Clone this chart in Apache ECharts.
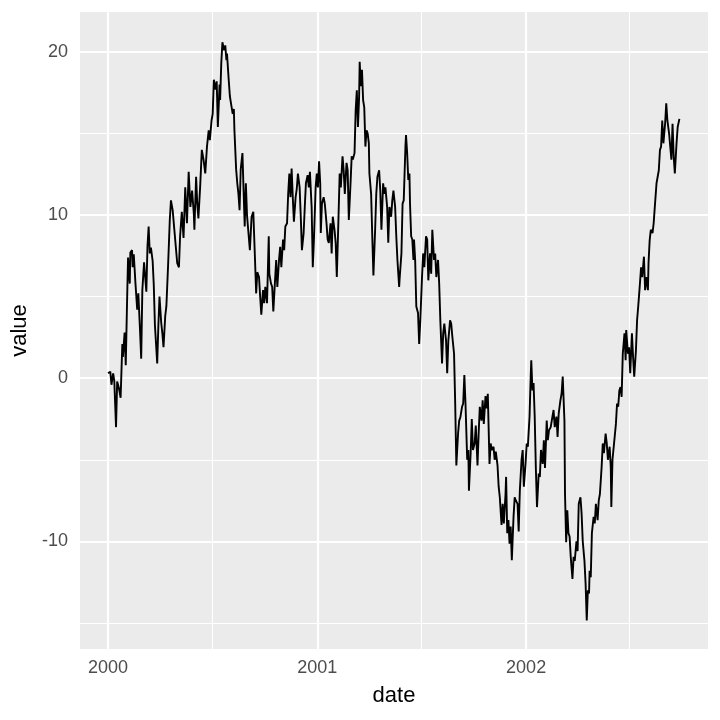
<!DOCTYPE html>
<html>
<head>
<meta charset="utf-8">
<script src="https://cdn.jsdelivr.net/npm/echarts@6/dist/echarts.min.js"></script>
<style>
  html, body { margin: 0; padding: 0; background: #fff; }
  #chart { width: 720px; height: 720px; }
</style>
</head>
<body>
<div id="chart"></div>
<script>
// days since 2000-01-01
const days = [
  0, 4, 6, 9, 11, 14, 16, 19, 22, 25, 26, 29, 31, 33, 35, 38, 39, 42, 43, 45,
  48, 51, 53, 56, 58, 60, 63, 65, 67, 69, 71, 73, 75, 78, 80, 82, 86, 88, 90, 93,
  95, 97, 100, 102, 105, 108, 110, 113, 116,
  121, 124, 126, 129, 132, 135, 138, 141, 144, 147, 150, 151, 154, 156, 158, 161, 164, 167, 170, 173,
  176, 178, 181, 183, 185, 188, 190, 192, 195, 196, 198, 200, 203, 205, 207, 208, 211, 213, 215, 218,
  220, 221, 224, 226, 228, 230, 232, 235, 237, 239, 241, 243, 246, 248,
  251, 254, 257, 259, 261, 264, 266, 268, 271, 273, 275, 278, 281, 282, 285, 287, 289, 292, 294, 296,
  299, 301, 303, 306, 308, 310, 313, 315, 317, 319, 321, 323, 325, 328, 330, 332, 335, 337, 339, 342,
  344, 346, 349, 351, 353, 356, 358, 360, 363, 365, 367, 369, 371, 372, 374, 377,
  379, 382, 384, 386, 389, 391, 393, 396, 398, 400, 403, 405, 407, 410, 412, 414, 417, 419, 421, 424,
  426, 428, 431, 433, 435, 437, 439, 440, 442, 444, 446, 448, 450, 452, 454, 456, 457, 460, 462, 464,
  467, 469, 471, 474, 476, 478, 481, 483, 485, 488, 490, 492, 495, 497, 499, 502, 504, 506, 509,
  510, 513, 515, 517, 520, 521, 523, 525, 527, 528, 530, 532, 534, 535, 537, 539, 542, 544, 546, 549,
  551, 553, 556, 558, 560, 563, 565, 567, 570, 572, 574, 577, 579, 581, 584, 586, 588, 591, 593, 595,
  598, 600, 602, 605, 607, 609, 612, 614, 616, 619, 621, 623, 625, 628, 630, 631, 634, 636, 638,
  641, 643, 646, 648, 650, 653, 655, 657, 660, 662, 664, 667, 669, 671, 674, 676, 678, 681, 683, 685,
  688, 690, 692, 695, 696, 698, 700, 702, 704, 706, 709, 711, 713, 716, 718, 720, 723, 725, 727, 730,
  732, 734, 737, 739, 740, 742, 744, 746, 748, 750, 753, 755, 757, 760, 762, 764, 767, 769, 771,
  774, 777, 779, 781, 784, 786, 788, 791, 793, 795, 798, 799, 801, 803, 805, 807, 809, 812, 814, 816,
  819, 821, 823, 826, 828, 830, 833, 835, 837, 839, 841, 842, 844, 846, 849, 851, 853, 856, 858, 860,
  863, 865, 867, 870, 872, 874, 877, 879, 880, 882,
  885, 888, 890, 892, 894, 896, 898, 900, 903, 905, 906, 909, 911, 913, 916, 918, 920, 923, 925, 927,
  930, 932, 934, 937, 939, 941, 944, 945, 947, 949, 952, 954, 956, 959, 961, 963, 965, 967, 969, 971,
  974, 976, 978, 981, 983, 985, 987, 989, 991, 994, 996, 999
];

const values = [
  0.3, 0.4, -0.4, 0.3, -0.2, -3.0, -0.2, -0.6, -1.2, 2.1, 1.3, 2.8, 0.8, 4.2, 7.4, 5.8, 7.7, 7.85, 6.8, 7.6,
  5.8, 4.2, 5.2, 2.9, 1.2, 5.4, 7.1, 7.0, 5.3, 8.1, 9.3, 7.65, 8.0, 7.2, 5.7, 3.25, 0.9, 3.2, 5.0, 3.4,
  2.75, 1.9, 3.8, 4.4, 6.9, 9.7, 10.9, 10.3, 10.3,
  7.05, 6.8, 8.7, 10.2, 8.6, 11.7, 9.5, 12.65, 10.5, 11.5, 10.1, 9.1, 12.35, 10.7, 9.8, 11.7, 14.0, 13.4, 12.55, 14.2,
  15.2, 14.6, 15.8, 16.2, 18.3, 17.7, 18.2, 15.4, 18.0, 17.05, 19.3, 20.6, 20.1, 20.4, 19.5, 19.9, 18.3, 17.3, 16.85, 16.2,
  16.5, 15.2, 12.8, 11.95, 11.3, 10.3, 12.8, 13.8, 11.5, 9.3, 11.95, 10.0, 8.7, 7.85,
  9.9, 10.2, 7.25, 5.2, 6.5, 6.2, 5.0, 3.9, 5.4, 4.6, 5.6, 4.6, 8.7, 6.4, 5.8, 5.6, 4.1, 6.0, 7.25, 5.6,
  7.25, 8.05, 6.8, 8.5, 7.85, 9.3, 9.5, 11.3, 12.55, 11.1, 12.85, 11.1, 9.6, 11.1, 11.6, 12.55, 11.7, 9.9, 7.85, 8.9,
  10.5, 11.95, 12.45, 11.7, 12.65, 10.5, 6.8, 8.5, 11.7, 12.55, 11.7, 13.3, 11.95, 8.9, 10.7, 11.1,
  10.7, 9.5, 8.5, 8.3, 9.5, 7.65, 9.9, 9.1, 8.3, 6.2, 9.9, 12.55, 11.7, 13.6, 12.75, 11.3, 13.2, 12.75, 9.7, 11.95,
  13.6, 13.4, 13.8, 16.45, 17.65, 15.4, 17.25, 19.4, 17.9, 18.9, 17.05, 16.6, 14.2, 15.2, 15.0, 14.4, 12.55, 11.3, 8.7, 6.3,
  9.1, 11.3, 12.35, 12.75, 11.5, 9.1, 11.95, 11.3, 11.7, 10.5, 8.3, 10.5, 9.9, 10.9, 11.5, 10.5, 8.7, 7.25, 5.6,
  6.2, 7.65, 10.7, 10.9, 14.2, 14.9, 13.8, 12.15, 12.55, 10.7, 8.7, 8.5, 7.25, 8.5, 7.25, 4.4, 4.0, 2.1, 3.55, 6.2,
  7.65, 6.8, 8.7, 8.5, 6.0, 7.65, 6.4, 9.1, 7.25, 7.65, 6.2, 7.25, 5.8, 3.55, 0.9, 2.75, 3.35, 2.3, 0.3, 2.3,
  3.55, 3.35, 2.55, 1.5, -1.55, -5.35, -3.4, -2.6, -2.4, -1.75, -1.55, 0.2, -1.55, -5.0, -4.4, -6.9, -4.6, -2.5, -4.4,
  -4.0, -2.9, -5.35, -3.4, -1.75, -2.6, -1.35, -2.8, -1.1, -1.85, -0.95, -5.25, -4.0, -4.4, -4.2, -5.0, -4.5, -5.35, -6.65, -7.3,
  -9.0, -7.7, -8.9, -7.1, -6.05, -9.5, -8.7, -10.15, -9.1, -11.15, -8.5, -7.3, -7.5, -7.7, -9.4, -6.9, -5.0, -4.4, -6.65, -5.25,
  -4.0, -4.2, -2.35, 0.1, 1.1, -0.75, -0.3, -2.35, -5.5, -7.9, -5.85, -6.05, -4.4, -5.25, -3.8, -5.5, -2.6, -3.8, -3.2,
  -3.0, -2.35, -1.95, -3.0, -2.35, -3.6, -2.15, -1.35, -0.95, 0.1, -2.6, -7.1, -10.05, -8.1, -9.5, -9.7, -10.95, -12.3, -10.95, -11.2,
  -10.0, -10.6, -7.7, -7.3, -8.3, -10.0, -11.2, -12.6, -14.85, -13.0, -13.2, -11.8, -12.2, -9.5, -8.5, -8.9, -7.7, -8.7, -7.5, -7.1,
  -5.45, -4.0, -4.6, -3.4, -4.0, -5.0, -4.2, -5.45, -7.9, -5.0,
  -5.0, -2.8, -1.55, -1.75, -0.75, -0.55, -1.15, 1.5, 2.75, 1.1, 2.95, 1.5, 1.9, 0.3, 2.75, 1.3, 0.1, 1.7, 3.55, 4.4,
  5.8, 6.8, 6.2, 7.45, 5.4, 6.2, 5.4, 7.05, 8.45, 9.1, 8.9, 9.5, 10.5, 11.95, 12.35, 12.75, 14.0, 14.2, 15.8, 14.4,
  15.6, 16.85, 15.8, 15.0, 14.2, 13.4, 15.6, 13.6, 12.55, 14.4, 15.4, 15.9
];

// axis breaks
const yearDays = [0, 366, 731];
const yearLabels = ['2000', '2001', '2002'];
const midYearDays = [182, 547, 912];
const yMajor = [-10, 0, 10, 20];
const yMinor = [-15, -5, 5, 15];

const seriesData = days.map((d, i) => [d, values[i]]);

const gridLine = (key, list, width) => list.map((v) => ({
  [key]: v,
  lineStyle: { color: '#ffffff', width: width, type: 'solid' }
}));

const chart = echarts.init(document.getElementById('chart'), null, { renderer: 'canvas' });

const tickFont = { fontFamily: 'Liberation Sans', fontSize: 18, color: '#4d4d4d' };
const titleFont = { fontFamily: 'Liberation Sans', fontSize: 22, color: '#000000' };

chart.setOption({
  animation: false,
  backgroundColor: '#ffffff',
  grid: {
    left: 80, right: 12, top: 12, bottom: 71,
    show: true, backgroundColor: '#ebebeb', borderWidth: 0
  },
  xAxis: {
    type: 'value',
    min: -49,
    max: 1049,
    name: 'date',
    nameLocation: 'middle',
    nameGap: 36,
    nameTextStyle: titleFont,
    axisLine: { show: false },
    axisTick: { show: true, length: 6, lineStyle: { color: '#333333', width: 1.8 }, customValues: yearDays },
    axisLabel: {
      ...tickFont, margin: 10, customValues: yearDays,
      formatter: (v) => yearLabels[yearDays.indexOf(v)]
    },
    splitLine: { show: false }
  },
  yAxis: {
    type: 'value',
    min: -16.6,
    max: 22.45,
    name: 'value',
    nameLocation: 'middle',
    nameGap: 49,
    nameTextStyle: titleFont,
    axisLine: { show: false },
    axisTick: { show: true, length: 6, lineStyle: { color: '#333333', width: 1.8 }, customValues: yMajor },
    axisLabel: { ...tickFont, margin: 12, customValues: yMajor },
    splitLine: { show: false }
  },
  series: [
    {
      // panel grid lines
      type: 'line',
      data: [],
      silent: true,
      z: 1,
      markLine: {
        z: 1,
        silent: true,
        symbol: ['none', 'none'],
        label: { show: false },
        emphasis: { disabled: true },
        animation: false,
        data: [
          ...gridLine('yAxis', yMinor, 1.1),
          ...gridLine('xAxis', midYearDays, 1.1),
          ...gridLine('yAxis', yMajor, 2.2),
          ...gridLine('xAxis', yearDays, 2.2)
        ]
      }
    },
    {
      type: 'line',
      data: seriesData,
      z: 3,
      showSymbol: false,
      symbol: 'none',
      lineStyle: { color: '#000000', width: 1.9 },
      silent: true
    }
  ]
});
</script>
</body>
</html>
